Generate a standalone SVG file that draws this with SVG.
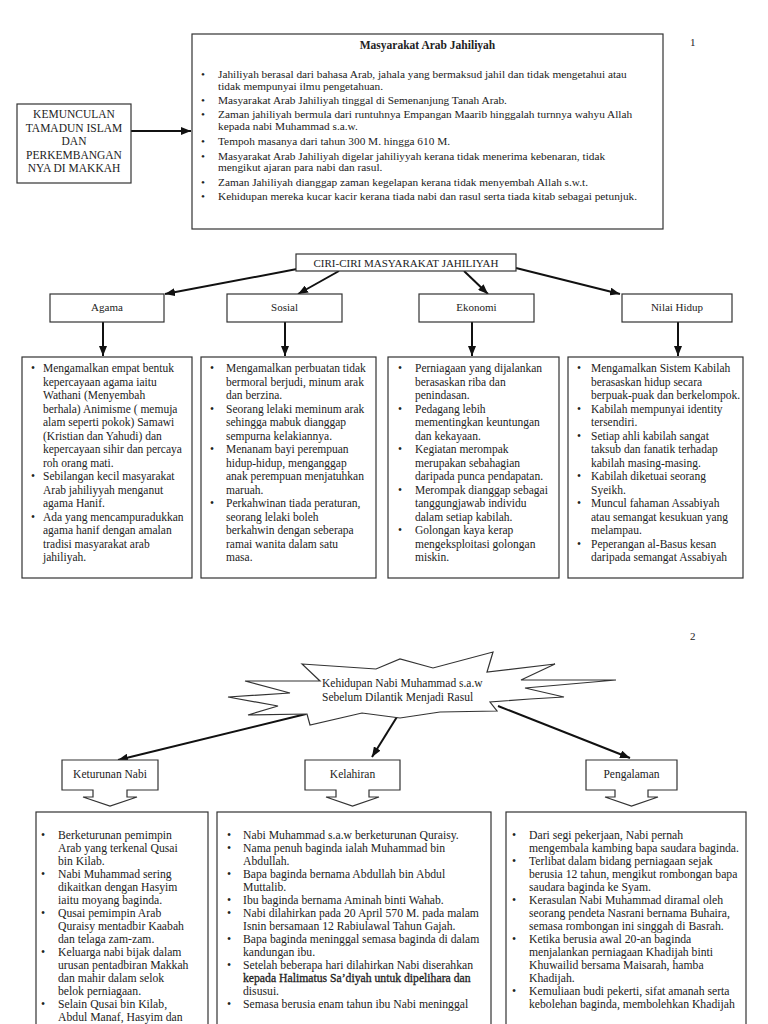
<svg xmlns="http://www.w3.org/2000/svg" width="768" height="1024" viewBox="0 0 768 1024">
<defs>
<marker id="ah" markerUnits="userSpaceOnUse" markerWidth="10" markerHeight="8" refX="10" refY="4" orient="auto"><path d="M0,0 L10,4 L0,8 Z" fill="#111"/></marker>
</defs>
<style>
.t{font-family:"Liberation Serif","Times New Roman",serif;fill:#222}
.s105{font-size:11.3px}
.s115{font-size:11.5px}
.s117{font-size:11.7px}
.lbl{font-size:11px;text-anchor:middle}
.lbl2{font-size:11.5px;text-anchor:middle}
.box{fill:#fff;stroke:#333;stroke-width:1.2}
.c{stroke:#111;stroke-width:2;fill:none;marker-end:url(#ah)}
.pn{font-size:11px}
</style>
<rect width="768" height="1024" fill="#fff"/>

<text class="t pn" x="690" y="46">1</text>
<text class="t pn" x="690" y="640">2</text>

<g id="connectors">
<line class="c" x1="131" y1="131" x2="191" y2="131"/>
<line class="c" x1="297" y1="269" x2="165" y2="294"/>
<line class="c" x1="339" y1="271" x2="298" y2="294"/>
<line class="c" x1="464" y1="271" x2="488" y2="294"/>
<line class="c" x1="516" y1="268" x2="620" y2="294"/>
<line class="c" x1="103" y1="322" x2="103" y2="356"/>
<line class="c" x1="285" y1="322" x2="285" y2="356"/>
<line class="c" x1="472" y1="322" x2="472" y2="356"/>
<line class="c" x1="678" y1="322" x2="678" y2="356"/>
<line class="c" x1="306" y1="714" x2="118" y2="760"/>
<line class="c" x1="400" y1="712" x2="372" y2="757"/>
<line class="c" x1="498" y1="706" x2="630" y2="758"/>
</g>

<g id="kemunculan">
<rect class="box" x="17" y="104" width="114" height="79"/>
<text class="t s115" text-anchor="middle"><tspan x="74" y="118">KEMUNCULAN</tspan><tspan x="74" y="131.5">TAMADUN ISLAM</tspan><tspan x="74" y="145">DAN</tspan><tspan x="74" y="158.5">PERKEMBANGAN</tspan><tspan x="74" y="172">NYA DI MAKKAH</tspan></text>
</g>

<g id="masyarakat">
<rect class="box" x="192" y="34" width="471" height="195"/>
<text class="t" x="427.5" y="49" text-anchor="middle" font-size="11.5" font-weight="bold">Masyarakat Arab Jahiliyah</text>
<text class="t s105"><tspan x="201" y="78">•</tspan><tspan x="201" y="104">•</tspan><tspan x="201" y="118">•</tspan><tspan x="201" y="144.5">•</tspan><tspan x="201" y="159.5">•</tspan><tspan x="201" y="186">•</tspan><tspan x="201" y="200">•</tspan></text>
<text class="t s105"><tspan x="218" y="78">Jahiliyah berasal dari bahasa Arab, jahala yang bermaksud jahil dan tidak mengetahui atau</tspan><tspan x="218" y="89.5">tidak mempunyai ilmu pengetahuan.</tspan><tspan x="218" y="104">Masyarakat Arab Jahiliyah tinggal di Semenanjung Tanah Arab.</tspan><tspan x="218" y="118">Zaman jahiliyah bermula dari runtuhnya Empangan Maarib hinggalah turnnya wahyu Allah</tspan><tspan x="218" y="130">kepada nabi Muhammad s.a.w.</tspan><tspan x="218" y="144.5">Tempoh masanya dari tahun 300 M. hingga 610 M.</tspan><tspan x="218" y="159.5">Masyarakat Arab Jahiliyah digelar jahiliyyah kerana tidak menerima kebenaran, tidak</tspan><tspan x="218" y="171">mengikut ajaran para nabi dan rasul.</tspan><tspan x="218" y="186">Zaman Jahiliyah dianggap zaman kegelapan kerana tidak menyembah Allah s.w.t.</tspan><tspan x="218" y="200">Kehidupan mereka kucar kacir kerana tiada nabi dan rasul serta tiada kitab sebagai petunjuk.</tspan></text>
</g>

<g id="ciri">
<rect class="box" x="296" y="254" width="220" height="17"/>
<text class="t lbl" x="406" y="267">CIRI-CIRI MASYARAKAT JAHILIYAH</text>
</g>
<g id="agama"><rect class="box" x="50" y="294" width="114" height="28"/><text class="t lbl" x="107" y="311">Agama</text></g>
<g id="sosial"><rect class="box" x="227" y="294" width="115" height="28"/><text class="t lbl" x="284.5" y="311">Sosial</text></g>
<g id="ekonomi"><rect class="box" x="419" y="294" width="115" height="28"/><text class="t lbl" x="476.5" y="311">Ekonomi</text></g>
<g id="nilai"><rect class="box" x="622" y="294" width="110" height="28"/><text class="t lbl" x="677" y="311">Nilai Hidup</text></g>

<g id="agama-list">
<rect class="box" x="22" y="357" width="170" height="221"/>
<text class="t s115"><tspan x="31" y="372">•</tspan><tspan x="31" y="480">•</tspan><tspan x="31" y="520.5">•</tspan></text>
<text class="t s115"><tspan x="43" y="372">Mengamalkan empat bentuk</tspan><tspan x="43" y="385.5">kepercayaan agama iaitu</tspan><tspan x="43" y="399">Wathani (Menyembah</tspan><tspan x="43" y="412.5">berhala) Animisme ( memuja</tspan><tspan x="43" y="426">alam seperti pokok) Samawi</tspan><tspan x="43" y="439.5">(Kristian dan Yahudi) dan</tspan><tspan x="43" y="453">kepercayaan sihir dan percaya</tspan><tspan x="43" y="466.5">roh orang mati.</tspan><tspan x="43" y="480">Sebilangan kecil masyarakat</tspan><tspan x="43" y="493.5">Arab jahiliyyah menganut</tspan><tspan x="43" y="507">agama Hanif.</tspan><tspan x="43" y="520.5">Ada yang mencampuradukkan</tspan><tspan x="43" y="534">agama hanif dengan amalan</tspan><tspan x="43" y="547.5">tradisi masyarakat arab</tspan><tspan x="43" y="561">jahiliyah.</tspan></text>
</g>

<g id="sosial-list">
<rect class="box" x="201" y="357" width="175" height="221"/>
<text class="t s115"><tspan x="210" y="372">•</tspan><tspan x="210" y="412.5">•</tspan><tspan x="210" y="453">•</tspan><tspan x="210" y="507">•</tspan></text>
<text class="t s115"><tspan x="226" y="372">Mengamalkan perbuatan tidak</tspan><tspan x="226" y="385.5">bermoral berjudi, minum arak</tspan><tspan x="226" y="399">dan berzina.</tspan><tspan x="226" y="412.5">Seorang lelaki meminum arak</tspan><tspan x="226" y="426">sehingga mabuk dianggap</tspan><tspan x="226" y="439.5">sempurna kelakiannya.</tspan><tspan x="226" y="453">Menanam bayi perempuan</tspan><tspan x="226" y="466.5">hidup-hidup, menganggap</tspan><tspan x="226" y="480">anak perempuan menjatuhkan</tspan><tspan x="226" y="493.5">maruah.</tspan><tspan x="226" y="507">Perkahwinan tiada peraturan,</tspan><tspan x="226" y="520.5">seorang lelaki boleh</tspan><tspan x="226" y="534">berkahwin dengan seberapa</tspan><tspan x="226" y="547.5">ramai wanita dalam satu</tspan><tspan x="226" y="561">masa.</tspan></text>
</g>

<g id="ekonomi-list">
<rect class="box" x="388" y="357" width="171" height="221"/>
<text class="t s115"><tspan x="398" y="372">•</tspan><tspan x="398" y="412.5">•</tspan><tspan x="398" y="453">•</tspan><tspan x="398" y="493.5">•</tspan><tspan x="398" y="534">•</tspan></text>
<text class="t s115"><tspan x="415" y="372">Perniagaan yang dijalankan</tspan><tspan x="415" y="385.5">berasaskan riba dan</tspan><tspan x="415" y="399">penindasan.</tspan><tspan x="415" y="412.5">Pedagang lebih</tspan><tspan x="415" y="426">mementingkan keuntungan</tspan><tspan x="415" y="439.5">dan kekayaan.</tspan><tspan x="415" y="453">Kegiatan merompak</tspan><tspan x="415" y="466.5">merupakan sebahagian</tspan><tspan x="415" y="480">daripada punca pendapatan.</tspan><tspan x="415" y="493.5">Merompak dianggap sebagai</tspan><tspan x="415" y="507">tanggungjawab  individu</tspan><tspan x="415" y="520.5">dalam setiap kabilah.</tspan><tspan x="415" y="534">Golongan kaya kerap</tspan><tspan x="415" y="547.5">mengeksploitasi golongan</tspan><tspan x="415" y="561">miskin.</tspan></text>
</g>

<g id="nilai-list">
<rect class="box" x="568" y="357" width="175" height="221"/>
<text class="t s115"><tspan x="577" y="372">•</tspan><tspan x="577" y="412.5">•</tspan><tspan x="577" y="439.5">•</tspan><tspan x="577" y="480">•</tspan><tspan x="577" y="507">•</tspan><tspan x="577" y="547.5">•</tspan></text>
<text class="t s115"><tspan x="591" y="372">Mengamalkan Sistem Kabilah</tspan><tspan x="591" y="385.5">berasaskan hidup secara</tspan><tspan x="591" y="399">berpuak-puak dan berkelompok.</tspan><tspan x="591" y="412.5">Kabilah mempunyai identity</tspan><tspan x="591" y="426">tersendiri.</tspan><tspan x="591" y="439.5">Setiap ahli kabilah sangat</tspan><tspan x="591" y="453">taksub dan fanatik terhadap</tspan><tspan x="591" y="466.5">kabilah masing-masing.</tspan><tspan x="591" y="480">Kabilah diketuai seorang</tspan><tspan x="591" y="493.5">Syeikh.</tspan><tspan x="591" y="507">Muncul fahaman Assabiyah</tspan><tspan x="591" y="520.5">atau semangat kesukuan yang</tspan><tspan x="591" y="534">melampau.</tspan><tspan x="591" y="547.5">Peperangan al-Basus kesan</tspan><tspan x="591" y="561">daripada semangat Assabiyah</tspan></text>
</g>

<g id="kehidupan">
<path class="box" d="M302,664 L376,669 L400,659 L433,668 L493,652 L487,672 L555,664 L521,680 L616,680 L525,688 L564,697 L530,699 L490,702 L497,711 L440,712 L400,718 L362,713 L310,725 L307,714 L248,715 L278,706 L228,697 L290,693 L245,681 L320,681 Z"/>
<text class="t s115"><tspan x="322" y="686.5">Kehidupan Nabi Muhammad s.a.w</tspan><tspan x="322" y="701">Sebelum Dilantik Menjadi Rasul</tspan></text>
</g>

<g id="keturunan">
<path class="box" d="M62,760 H158 V790 H127 V797 H137 L110,806 L83,797 H93 V790 H62 Z"/>
<text class="t lbl2" x="110" y="778">Keturunan Nabi</text>
</g>
<g id="kelahiran">
<path class="box" d="M305,760 H400 V790 H369 V797 H379 L352.5,806 L326,797 H336 V790 H305 Z"/>
<text class="t lbl2" x="352.5" y="778">Kelahiran</text>
</g>
<g id="pengalaman">
<path class="box" d="M586,760 H677 V790 H648 V797 H658 L631.5,806 L605,797 H615 V790 H586 Z"/>
<text class="t lbl2" x="631.5" y="778">Pengalaman</text>
</g>

<g id="keturunan-list">
<rect class="box" x="36" y="812" width="172" height="230"/>
<text class="t s117"><tspan x="41" y="838.5">•</tspan><tspan x="41" y="877.5">•</tspan><tspan x="41" y="916.5">•</tspan><tspan x="41" y="955.5">•</tspan><tspan x="41" y="1007.5">•</tspan></text>
<text class="t s117"><tspan x="58" y="838.5">Berketurunan pemimpin</tspan><tspan x="58" y="851.5">Arab yang terkenal Qusai</tspan><tspan x="58" y="864.5">bin Kilab.</tspan><tspan x="58" y="877.5">Nabi Muhammad sering</tspan><tspan x="58" y="890.5">dikaitkan dengan Hasyim</tspan><tspan x="58" y="903.5">iaitu moyang baginda.</tspan><tspan x="58" y="916.5">Qusai pemimpin Arab</tspan><tspan x="58" y="929.5">Quraisy mentadbir Kaabah</tspan><tspan x="58" y="942.5">dan telaga zam-zam.</tspan><tspan x="58" y="955.5">Keluarga nabi bijak dalam</tspan><tspan x="58" y="968.5">urusan pentadbiran Makkah</tspan><tspan x="58" y="981.5">dan mahir dalam selok</tspan><tspan x="58" y="994.5">belok perniagaan.</tspan><tspan x="58" y="1007.5">Selain Qusai bin Kilab,</tspan><tspan x="58" y="1020.5">Abdul Manaf, Hasyim dan</tspan></text>
</g>

<g id="kelahiran-list">
<rect class="box" x="217" y="812" width="274" height="230"/>
<text class="t s117"><tspan x="227" y="838.5">•</tspan><tspan x="227" y="851.5">•</tspan><tspan x="227" y="877.5">•</tspan><tspan x="227" y="903.5">•</tspan><tspan x="227" y="916.5">•</tspan><tspan x="227" y="942.5">•</tspan><tspan x="227" y="968.5">•</tspan><tspan x="227" y="1007.5">•</tspan></text>
<text class="t s117"><tspan x="243" y="838.5">Nabi Muhammad s.a.w berketurunan Quraisy.</tspan><tspan x="243" y="851.5">Nama penuh baginda ialah Muhammad bin</tspan><tspan x="243" y="864.5">Abdullah.</tspan><tspan x="243" y="877.5">Bapa baginda bernama Abdullah bin Abdul</tspan><tspan x="243" y="890.5">Muttalib.</tspan><tspan x="243" y="903.5">Ibu baginda bernama Aminah binti Wahab.</tspan><tspan x="243" y="916.5">Nabi dilahirkan pada 20 April 570 M. pada malam</tspan><tspan x="243" y="929.5">Isnin bersamaan 12 Rabiulawal Tahun Gajah.</tspan><tspan x="243" y="942.5">Bapa baginda meninggal semasa baginda di dalam</tspan><tspan x="243" y="955.5">kandungan ibu.</tspan><tspan x="243" y="968.5">Setelah beberapa hari dilahirkan Nabi diserahkan</tspan><tspan x="243" y="981.5" stroke="#222" stroke-width="0.3">kepada Halimatus Sa’diyah untuk dipelihara dan</tspan><tspan x="243" y="994.5">disusui.</tspan><tspan x="243" y="1007.5">Semasa berusia enam tahun ibu Nabi meninggal</tspan></text>
</g>

<g id="pengalaman-list">
<rect class="box" x="506" y="812" width="240" height="230"/>
<text class="t s117"><tspan x="512" y="838.5">•</tspan><tspan x="512" y="864.5">•</tspan><tspan x="512" y="903.5">•</tspan><tspan x="512" y="942.5">•</tspan><tspan x="512" y="994.5">•</tspan></text>
<text class="t s117"><tspan x="529" y="838.5">Dari segi pekerjaan, Nabi pernah</tspan><tspan x="529" y="851.5">mengembala kambing bapa saudara baginda.</tspan><tspan x="529" y="864.5">Terlibat dalam bidang perniagaan sejak</tspan><tspan x="529" y="877.5">berusia 12 tahun, mengikut rombongan bapa</tspan><tspan x="529" y="890.5">saudara baginda ke Syam.</tspan><tspan x="529" y="903.5">Kerasulan Nabi Muhammad diramal oleh</tspan><tspan x="529" y="916.5">seorang pendeta Nasrani bernama Buhaira,</tspan><tspan x="529" y="929.5">semasa rombongan ini singgah di Basrah.</tspan><tspan x="529" y="942.5">Ketika berusia awal 20-an baginda</tspan><tspan x="529" y="955.5">menjalankan perniagaan Khadijah binti</tspan><tspan x="529" y="968.5">Khuwailid bersama Maisarah, hamba</tspan><tspan x="529" y="981.5">Khadijah.</tspan><tspan x="529" y="994.5">Kemuliaan budi pekerti, sifat amanah serta</tspan><tspan x="529" y="1007.5">kebolehan baginda, membolehkan Khadijah</tspan></text>
</g>
</svg>
